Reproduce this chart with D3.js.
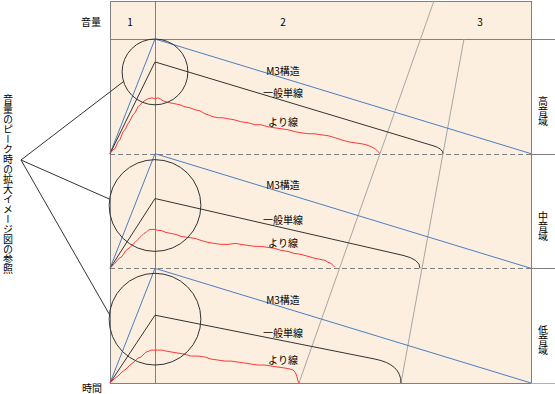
<!DOCTYPE html>
<html>
<head>
<meta charset="utf-8">
<script src="https://cdn.jsdelivr.net/npm/d3@7"></script>
<style>
  body { margin: 0; background: #fff; }
  text { font-family: "Noto Sans CJK JP", sans-serif; font-size: 10px; fill: #000; }
  .vt { writing-mode: vertical-rl; text-orientation: upright; }
</style>
</head>
<body>
<svg id="chart" width="555" height="394"></svg>
<script>
// pitch ranges (rows) and phases (header columns)
const ranges = ["高音域", "中音域", "低音域"];
const phases = ["1", "2", "3"];
const seriesNames = ["M3構造", "一般単線", "より線"];
const peakTime = 45;

// M3: straight rise and straight decay, same in every range
const m3Curve = [[0, 0], [45, 115], [421, 0]];

// single wire: start, peak, start of the bend, end  [time, volume]
const singleWire = [
  [[0, 0], [45, 92], [323, 8], [333, 0]],
  [[0, 0], [45, 70], [293, 13], [310, 0]],
  [[0, 0], [45, 68], [265, 24], [291, 0]]
];

// stranded wire
const strandedHigh = [[0,0],[3,4],[5,5],[8,12],[10,14],[13,22],[15,24],[18,30],[20,33],[23,39],[25,41],[28,47],
  [30,49],[33,52],[36,54],[38,55],[42,56],[45,55],[48,56],[50,55],[53,53],[56,52],[60,51],[65,50],[70,49],[75,47],
  [80,46],[85,44],[90,43],[95,40],[98,39],[103,37],[108,36],[113,36],[118,35],[124,34],[131,32],[138,31],[145,29],
  [151,29],[158,27],[164,26],[171,25],[178,24],[185,22],[191,21],[198,20],[204,20],[211,19],[218,18],[225,16],
  [231,14],[238,12],[244,11],[251,10],[256,9],[261,7],[265,5],[268,2],[270,0]];
const strandedMid = [[0,0],[4,4],[8,9],[12,12],[16,18],[20,21],[25,26],[28,29],[31,32],[34,35],[36,36],[38,38],
  [40,39],[43,39],[45,39],[48,38],[51,38],[56,36],[61,35],[66,34],[71,32],[78,31],[85,30],[91,28],[98,26],[104,25],
  [111,24],[118,24],[125,25],[131,24],[138,23],[145,22],[151,22],[158,21],[165,20],[171,18],[178,17],[184,15],
  [191,14],[198,12],[205,10],[210,9],[215,8],[218,6],[221,5],[223,3],[225,1]];
const strandedLow = [[0,0],[4,4],[8,7],[12,11],[16,14],[20,18],[25,22],[28,25],[31,26],[34,29],[36,31],[39,32],
  [41,33],[45,33],[48,33],[52,33],[56,32],[62,31],[68,30],[74,29],[81,27],[88,27],[95,26],[101,24],[108,23],
  [115,22],[121,22],[128,21],[135,20],[141,19],[148,18],[155,18],[161,17],[168,16],[175,15],[180,14],[183,13],
  [185,11],[186,9],[187,6],[188,2],[189,0]];
const stranded = [strandedHigh, strandedMid, strandedLow];

// zoom circles round the peak: [centre volume, radius]
const zoomCircles = [[82, 33], [63, 46], [64, 46]];

const svg = d3.select("#chart");
const leftX = 110, rightX = 531, topY = 1, headerY = 39, bottomY = 383;

const x = d3.scaleLinear().domain([0, 421]).range([leftX, rightX]);
const band = d3.scaleBand().domain(ranges).range([headerY, bottomY]);
const yFor = r => d3.scaleLinear().domain([0, 115]).range([band(r) + band.bandwidth(), band(r)]);
const crisp = v => Math.round(v) + 0.5;

// background
svg.append("rect")
  .attr("x", leftX).attr("y", topY)
  .attr("width", rightX - leftX).attr("height", bottomY - topY)
  .attr("fill", "#fcefdf");

// grid
const grid = svg.append("g").attr("stroke", "#808080").attr("fill", "none");
grid.append("rect")
  .attr("x", crisp(leftX)).attr("y", crisp(topY))
  .attr("width", rightX - leftX).attr("height", bottomY - topY);
grid.append("line")
  .attr("x1", crisp(x(peakTime))).attr("x2", crisp(x(peakTime)))
  .attr("y1", topY).attr("y2", bottomY);
grid.append("line")
  .attr("x1", leftX).attr("x2", 555)
  .attr("y1", crisp(headerY)).attr("y2", crisp(headerY));
ranges.forEach((r, i) => {
  const yb = crisp(band(r) + band.bandwidth());
  if (i < ranges.length - 1) {
    grid.append("line").attr("x1", leftX).attr("x2", rightX).attr("y1", yb).attr("y2", yb)
      .attr("stroke-dasharray", "5,3");
  }
  grid.append("line").attr("x1", rightX).attr("x2", 555).attr("y1", yb).attr("y2", yb)
    .attr("stroke", i === ranges.length - 1 ? "#b0b0b0" : "#808080");
});

// slanted boundaries through the ends of the decays
function slant(ends, yStart) {
  const p1 = ends[0], p2 = ends[ends.length - 1];
  const k = (p2[0] - p1[0]) / (p2[1] - p1[1]);
  svg.append("line")
    .attr("x1", p1[0] + k * (yStart - p1[1])).attr("y1", yStart)
    .attr("x2", p2[0]).attr("y2", p2[1])
    .attr("stroke", "#a6a6a6");
}
slant(ranges.map((r, i) => { const p = stranded[i][stranded[i].length - 1]; return [x(p[0]), yFor(r)(0)]; }), topY);
slant(ranges.map((r, i) => { const p = singleWire[i][3]; return [x(p[0]), yFor(r)(0)]; }), headerY);

// header
svg.append("text").attr("x", 91).attr("y", 21).attr("text-anchor", "middle")
  .attr("dominant-baseline", "central").text("音量");
const phaseX = [130, 283, 480];
phases.forEach((p, i) => {
  svg.append("text").attr("x", phaseX[i]).attr("y", 21).attr("text-anchor", "middle")
    .attr("dominant-baseline", "central").text(p);
});
svg.append("text").attr("x", 92).attr("y", 387.5).attr("text-anchor", "middle")
  .attr("dominant-baseline", "central").text("時間");

const line = d3.line().x(d => x(d[0]));
const labelTime = 173;
function valueAt(pts, t) {
  const i = d3.bisector(d => d[0]).right(pts, t);
  const a = pts[i - 1], b = pts[i];
  return a[1] + (b[1] - a[1]) * (t - a[0]) / (b[0] - a[0]);
}

ranges.forEach((r, i) => {
  const y = yFor(r);
  const g = svg.append("g").attr("fill", "none");

  // M3
  g.append("path").attr("d", line.y(d => y(d[1]))(m3Curve))
    .attr("stroke", "#4a7ec3");

  // single wire with a rounded end
  const [p0, pk, pc, pe] = singleWire[i];
  const slope = (pk[1] - pc[1]) / (pc[0] - pk[0]);
  const ctrl = pc[1] - slope * (pe[0] - pc[0]);
  const path = d3.path();
  path.moveTo(x(p0[0]), y(p0[1]));
  path.lineTo(x(pk[0]), y(pk[1]));
  path.lineTo(x(pc[0]), y(pc[1]));
  path.quadraticCurveTo(x(pe[0]), y(ctrl), x(pe[0]), y(pe[1]));
  g.append("path").attr("d", path.toString()).attr("stroke", "#333");

  // stranded
  g.append("path").attr("d", line.y(d => y(d[1]))(stranded[i]))
    .attr("stroke", "#ff3a3a");

  // zoom circle
  const [cv, cr] = zoomCircles[i];
  g.append("circle").attr("cx", x(peakTime)).attr("cy", y(cv))
    .attr("r", y(0) - y(cr)).attr("stroke", "#333");

  // labels
  const labelVals = [
    valueAt(m3Curve, labelTime),
    valueAt(singleWire[i], labelTime),
    valueAt(stranded[i], labelTime)
  ];
  seriesNames.forEach((name, j) => {
    svg.append("text").attr("x", x(labelTime)).attr("y", y(labelVals[j]) - 8)
      .attr("text-anchor", "middle").attr("dominant-baseline", "central").text(name);
  });

  // range label on the right
  svg.append("text").attr("class", "vt")
    .attr("x", 543).attr("y", band(r) + band.bandwidth() * 0.63)
    .attr("text-anchor", "middle").text(r);
});

// leader lines to the zoom circles
const apex = [21, 160];
const leaderAngles = [163, 188, 186];
ranges.forEach((r, i) => {
  const y = yFor(r);
  const [cv, cr] = zoomCircles[i];
  const rad = y(0) - y(cr), a = leaderAngles[i] * Math.PI / 180;
  svg.append("line")
    .attr("x1", apex[0]).attr("y1", apex[1])
    .attr("x2", x(peakTime) + rad * Math.cos(a)).attr("y2", y(cv) + rad * Math.sin(a))
    .attr("stroke", "#333");
});

svg.append("text").attr("class", "vt")
  .attr("x", 8).attr("y", 184).attr("text-anchor", "middle")
  .text("音量のピーク時の拡大イメージ図の参照");
</script>
</body>
</html>
